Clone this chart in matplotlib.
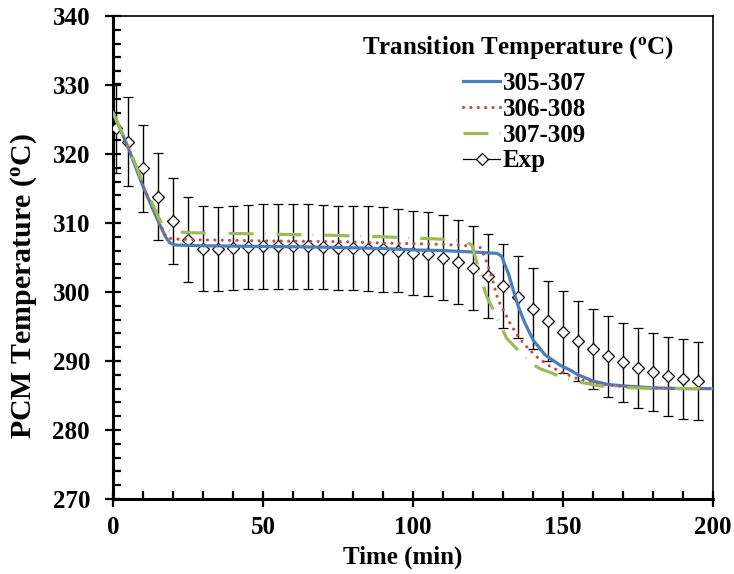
import matplotlib
matplotlib.use("Agg")
import matplotlib.pyplot as plt
from matplotlib.lines import Line2D
from matplotlib.ticker import MultipleLocator

plt.rcParams['font.family'] = ['Liberation Serif', 'DejaVu Serif']
plt.rcParams['font.weight'] = 'bold'
plt.rcParams['mathtext.default'] = 'regular'

# ---- data ----
t_a = [0, 5, 10, 15, 17.5, 19, 21, 30, 50, 70, 90, 100, 110, 120, 128, 129.5,
       131.8, 133.4, 135.1, 137.3, 140.1, 144, 149, 152.3, 155, 160, 165, 170, 180, 190, 200]
v_a = [326.0, 321.0, 315.3, 310.3, 308.0, 307.1, 306.8, 306.7, 306.6, 306.5, 306.3, 306.1, 306.0, 305.8, 305.6, 305.2,
       302.7, 300.3, 297.9, 295.5, 293.0, 290.9, 289.4, 288.7, 288.0, 287.1, 286.6, 286.4, 286.1, 286.0, 286.0]

t_b = [0, 5, 10, 15, 17.8, 20, 25, 50, 75, 90, 110, 118, 122.3, 123.4, 125.1, 126.8, 128.4,
       130.7, 132.3, 135.1, 138.4, 141.8, 145.7, 150, 155, 160, 165, 170, 180, 190, 200]
v_b = [326.0, 321.0, 315.4, 310.5, 307.9, 307.7, 307.6, 307.4, 307.3, 307.1, 306.9, 306.7, 306.5, 305.6, 303.7, 301.3, 298.8,
       296.9, 295.5, 293.5, 291.8, 290.4, 289.2, 288.3, 287.4, 286.8, 286.5, 286.3, 286.1, 286.0, 286.0]

t_c = [0, 5, 10, 15, 16.8, 19, 25, 50, 75, 90, 113, 118, 119.6, 121.2, 122.9, 124.6, 126.8, 128.4,
       131.2, 134.5, 139.6, 142.3, 146, 150, 156, 162, 168, 180, 190, 200]
v_c = [326.0, 321.2, 315.8, 311.0, 309.4, 308.8, 308.6, 308.4, 308.2, 308.0, 307.6, 307.2, 306.8, 304.4, 301.7, 299.3, 297.4, 295.9,
       293.3, 291.8, 289.6, 288.9, 288.3, 287.6, 286.9, 286.4, 286.2, 286.0, 286.0, 286.0]

t_exp = [1, 5, 10, 15, 20, 25, 30, 35, 40, 45, 50, 55, 60, 65, 70, 75, 80, 85, 90, 95,
         100, 105, 110, 115, 120, 125, 130, 135, 140, 145, 150, 155, 160, 165, 170, 175, 180, 185, 190, 195]
v_exp = [323.8, 321.8, 317.9, 313.8, 310.3, 307.6, 306.3, 306.2, 306.4, 306.5, 306.6, 306.6, 306.6, 306.6, 306.5, 306.4,
         306.4, 306.3, 306.2, 306.0, 305.7, 305.5, 305.0, 304.4, 303.5, 302.3, 300.9, 299.3, 297.6, 295.8,
         294.2, 292.9, 291.7, 290.7, 289.8, 289.0, 288.4, 287.8, 287.4, 287.1]
e_exp = [6.5, 6.4, 6.3, 6.3, 6.2, 6.1, 6.1, 6.1, 6.1, 6.1, 6.1, 6.1, 6.1, 6.1, 6.1, 6.1, 6.1, 6.1, 6.15, 6.05,
         6.1, 6.1, 6.1, 6.1, 6.05, 6.05, 6.05, 5.95, 5.9, 5.85, 5.9, 5.8, 5.8, 5.85, 5.75, 5.75, 5.7, 5.7, 5.75, 5.7]

labels = ['305-307', '306-308', '307-309', 'Exp']
legend_title = 'Transition Temperature ($^{o}$C)'
xlabel = 'Time (min)'
ylabel = 'PCM Temperature ($^{o}$C)'

# ---- figure ----
W, H = 734, 574
fig = plt.figure(figsize=(W/100, H/100), dpi=100)
ax = fig.add_axes([113/W, 1-499/H, 600/W, 483/H])

c_blue = '#4A7EBB'
c_red = '#C0504D'
c_green = '#9BBB59'
dot_ls = (0, (0.01, 2.3))
dashdot_ls = (0, (7.8, 3.5, 0.2, 3.5))

ax.errorbar(t_exp, v_exp, yerr=e_exp, fmt='D', color='black', ecolor='black', elinewidth=1.0,
            capsize=3.5, capthick=1.0, markersize=6.5, markerfacecolor='white',
            markeredgecolor='black', markeredgewidth=0.9, zorder=3)
ax.plot(t_a, v_a, color=c_blue, lw=2.3, solid_capstyle='round', zorder=4)
ax.plot(t_b, v_b, color=c_red, lw=2.3, linestyle=dot_ls, dash_capstyle='round', zorder=4)
ax.plot(t_c, v_c, color=c_green, lw=2.3, linestyle=dashdot_ls, zorder=4)

ax.set_xlim(0, 200)
ax.set_ylim(270, 340)
ax.xaxis.set_major_locator(MultipleLocator(50))
ax.xaxis.set_minor_locator(MultipleLocator(10))
ax.yaxis.set_major_locator(MultipleLocator(10))
ax.yaxis.set_minor_locator(MultipleLocator(2))
ax.tick_params(which='major', direction='inout', length=11, width=1.6, labelsize=18)
ax.tick_params(which='minor', direction='in', length=5.5, width=1.6)
ax.tick_params(axis='x', which='major', pad=7)
ax.tick_params(axis='y', which='major', pad=11)
for lab in ax.get_xticklabels() + ax.get_yticklabels():
    lab.set_fontweight('bold')

for s in ['left', 'bottom']:
    ax.spines[s].set_linewidth(2.2)
for s in ['top', 'right']:
    ax.spines[s].set_linewidth(1.2)

ax.set_xlabel(xlabel, fontsize=18, fontweight='bold')
ax.set_ylabel(ylabel, fontsize=21.5, fontweight='bold')
ax.xaxis.set_label_coords((403-113)/600, (499-546)/483)
ax.yaxis.set_label_coords((39-113)/600, (499-286)/483)

handles = [
    Line2D([], [], color=c_blue, lw=2.3),
    Line2D([], [], color=c_red, lw=2.3, linestyle=dot_ls, dash_capstyle='round'),
    Line2D([], [], color=c_green, lw=2.3, linestyle=dashdot_ls),
    Line2D([], [], color='black', lw=0.9, marker='D', markersize=6.5, markerfacecolor='white',
           markeredgecolor='black', markeredgewidth=0.9),
]
leg = ax.legend(handles, labels, loc='upper left',
                bbox_to_anchor=(463/W, 1-72/H), bbox_transform=fig.transFigure,
                frameon=False, fontsize=18, handlelength=1.48,
                handletextpad=0.12, labelspacing=0.11, borderpad=0, borderaxespad=0)
for txt in leg.get_texts():
    txt.set_fontweight('bold')

fig.text(518/W, 1-48/H, legend_title, ha='center', va='center', fontsize=18, fontweight='bold')

fig.savefig('out.png', dpi=100)
